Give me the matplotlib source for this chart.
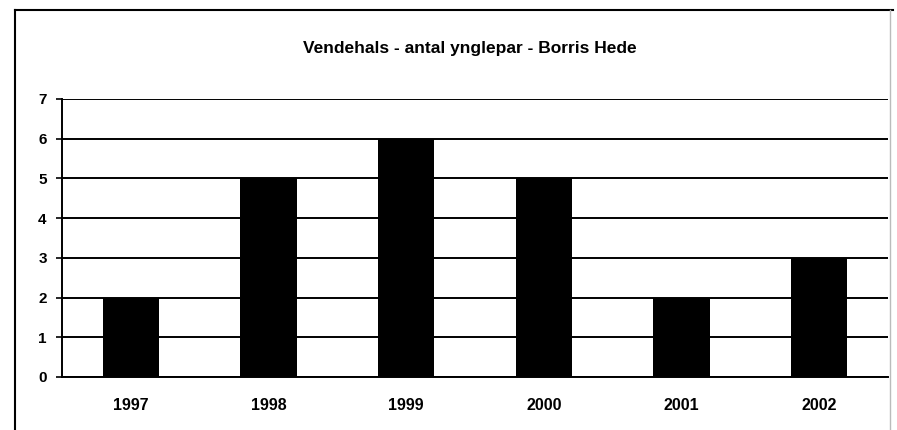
import matplotlib.pyplot as plt
from matplotlib.lines import Line2D

# Data
years = ["1997", "1998", "1999", "2000", "2001", "2002"]
par = [2, 5, 6, 5, 2, 3]
title = "Vendehals - antal ynglepar - Borris Hede"

plt.rcParams['font.family'] = ['Liberation Sans', 'DejaVu Sans']
plt.rcParams['font.weight'] = 'bold'

fig = plt.figure(figsize=(8.97, 4.30), dpi=100)
ax = fig.add_axes([0.0691, 0.1233, 0.9209, 0.6465])

x = range(len(years))
ax.bar(x, par, width=0.41, color="black", zorder=3)

ax.set_xlim(-0.5, len(years) - 0.5)
ax.set_ylim(0, 7)
ax.set_yticks(range(0, 8))
ax.set_xticks(list(x))
ax.set_xticklabels(years)
ax.yaxis.grid(True, color="black", linewidth=1.4, zorder=0)
ax.set_axisbelow(True)

for s in ["top", "right"]:
    ax.spines[s].set_visible(False)
ax.spines["left"].set_linewidth(1.4)
ax.spines["bottom"].set_linewidth(1.4)
ax.tick_params(axis="y", length=4, width=1.2, labelsize=11, pad=7)
ax.tick_params(axis="x", length=0, labelsize=11.5, pad=15)

fig.text(0.524, 0.888, title, ha="center", va="center", fontsize=12.5, fontweight="bold")

# Ramme rundt om diagrammet
fig.add_artist(Line2D([0.0167, 0.0167], [0.0, 0.977], color="black", linewidth=1.5))
fig.add_artist(Line2D([0.0167, 0.995], [0.977, 0.977], color="black", linewidth=1.5))
fig.add_artist(Line2D([0.992, 0.992], [0.0, 0.977], color="#bbbbbb", linewidth=1.0))

fig.savefig("out.png", dpi=100)
